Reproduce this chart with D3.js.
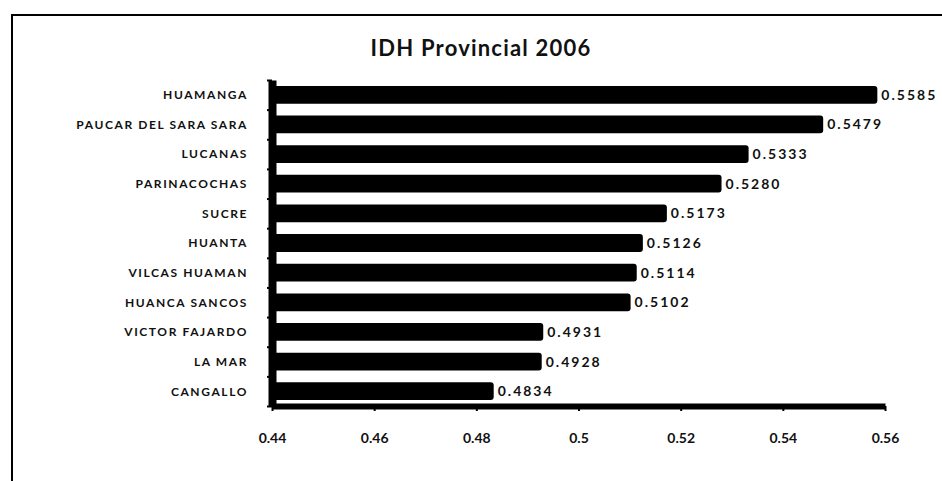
<!DOCTYPE html>
<html>
<head>
<meta charset="utf-8">
<script src="https://cdn.jsdelivr.net/npm/d3@7"></script>
<style>
  body { margin: 0; background: #fff; }
  text { font-family: Lato, "Open Sans", sans-serif; font-weight: bold; fill: #111; }
</style>
</head>
<body>
<div id="chart"></div>
<script>
var width = 942,
    height = 481;

// data
var provinces = ["HUAMANGA", "PAUCAR DEL SARA SARA", "LUCANAS", "PARINACOCHAS", "SUCRE",
                 "HUANTA", "VILCAS HUAMAN", "HUANCA SANCOS", "VICTOR FAJARDO", "LA MAR", "CANGALLO"];
var idh = [0.5585, 0.5479, 0.5333, 0.5280, 0.5173, 0.5126, 0.5114, 0.5102, 0.4931, 0.4928, 0.4834];
var xTicks = [0.44, 0.46, 0.48, 0.5, 0.52, 0.54, 0.56];
var title = "IDH Provincial 2006";

var svg = d3.select('#chart').append('svg')
    .attr('width', width)
    .attr('height', height);

// outer frame (only top and left edges are inside the picture)
svg.append('rect')
    .attr('x', 12).attr('y', 15)
    .attr('width', 1200).attr('height', 1200)
    .attr('fill', 'none')
    .attr('stroke', '#000')
    .attr('stroke-width', 2);

svg.append('text')
    .attr('x', 481).attr('y', 56)
    .attr('text-anchor', 'middle')
    .style('font-size', '22px')
    .style('letter-spacing', '1.2px')
    .text(title);

let scaleX = d3.scaleLinear().domain([0.44, 0.56]).range([272, 885]);
let scaleY = d3.scaleBand().domain(provinces).range([80, 406]).paddingInner(0.4).paddingOuter(0.2);
let scaleYTicks = d3.scaleLinear().domain([0, provinces.length]).range([80, 406]);

var data = provinces.map(function(p, i) { return {name: p, value: idh[i]}; });

// bars
svg.append('g').selectAll('.bar').data(data)
    .enter().append('rect')
    .attr('class', 'bar')
    .attr('x', scaleX(0.44))
    .attr('y', d => scaleY(d.name))
    .attr('width', d => scaleX(d.value) - scaleX(0.44))
    .attr('height', scaleY.bandwidth())
    .attr('rx', 3)
    .attr('fill', '#000');

// value labels
svg.append('g').selectAll('.val').data(data)
    .enter().append('text')
    .attr('class', 'val')
    .attr('x', d => scaleX(d.value) + 4)
    .attr('y', d => scaleY(d.name) + scaleY.bandwidth() / 2)
    .attr('dy', '0.36em')
    .style('font-size', '14px')
    .style('letter-spacing', '2px')
    .text(d => d.value.toFixed(4));

// category labels
svg.append('g').selectAll('.cat').data(data)
    .enter().append('text')
    .attr('class', 'cat')
    .attr('x', 248)
    .attr('y', d => scaleY(d.name) + scaleY.bandwidth() / 2)
    .attr('dy', '0.36em')
    .attr('text-anchor', 'end')
    .style('font-size', '12px')
    .style('letter-spacing', '1.6px')
    .text(d => d.name);

// y axis: ticks between categories
var axisLeft = d3.axisLeft(scaleYTicks)
    .tickValues(d3.range(provinces.length + 1))
    .tickFormat('')
    .tickSizeInner(5)
    .tickSizeOuter(0);
var gy = svg.append('g').attr('transform', 'translate(' + scaleX(0.44) + ',0)').call(axisLeft);
gy.select('.domain').attr('stroke', '#000').attr('stroke-width', 8);
gy.selectAll('.tick line').attr('stroke', '#000').attr('stroke-width', 2);

// x axis
var axisBottom = d3.axisBottom(scaleX)
    .tickValues(xTicks)
    .tickFormat(d => String(d))
    .tickSizeInner(5)
    .tickSizeOuter(0)
    .tickPadding(22);
var gx = svg.append('g').attr('transform', 'translate(0,406)').call(axisBottom);
gx.select('.domain').attr('stroke', '#000').attr('stroke-width', 6);
gx.selectAll('.tick line').attr('stroke', '#000').attr('stroke-width', 2);
gx.selectAll('.tick text')
    .style('font-size', '14px')
    .style('font-family', 'Lato, sans-serif')
    .style('font-weight', 'bold')
    .attr('fill', '#111');
</script>
</body>
</html>
